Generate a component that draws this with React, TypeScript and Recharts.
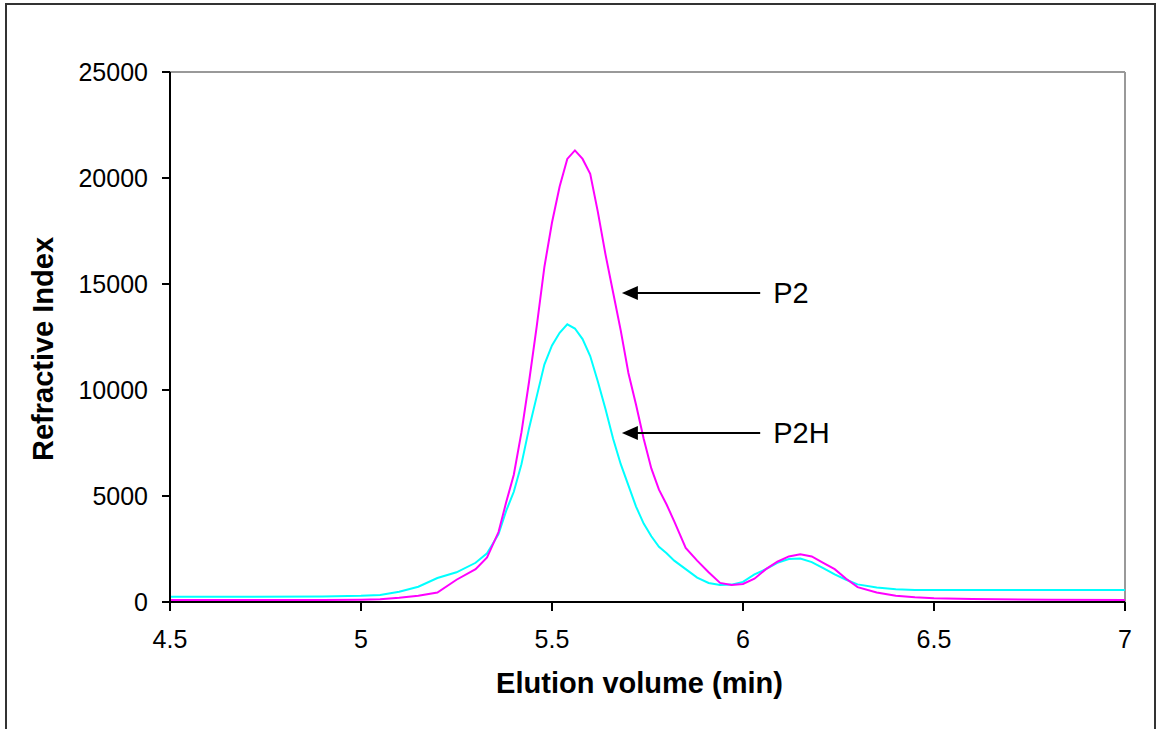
import {
  Label,
  Line,
  LineChart,
  ReferenceDot,
  ReferenceLine,
  XAxis,
  YAxis,
} from 'recharts'

// elution volume (min)
const volumes = [
  4.5, 4.7, 4.9, 5.0, 5.05, 5.1, 5.15, 5.2, 5.25, 5.3, 5.33, 5.36, 5.38, 5.4,
  5.42, 5.44, 5.46, 5.48, 5.5, 5.52, 5.54, 5.56, 5.58, 5.6, 5.62, 5.64, 5.66,
  5.68, 5.7, 5.72, 5.74, 5.76, 5.78, 5.8, 5.82, 5.85, 5.88, 5.91, 5.94, 5.97,
  6.0, 6.03, 6.06, 6.09, 6.12, 6.15, 6.18, 6.21, 6.24, 6.27, 6.3, 6.35, 6.4,
  6.45, 6.5, 6.6, 6.8, 7.0,
]

const p2 = [
  100, 100, 100, 110, 130, 200, 300, 450, 1050, 1550, 2100, 3300, 4700, 6000,
  8000, 10400, 13000, 15800, 17900, 19600, 20900, 21300, 20900, 20200, 18400,
  16400, 14600, 12800, 10800, 9300, 7700, 6300, 5300, 4600, 3800, 2550, 1950,
  1400, 900, 800, 850, 1100, 1550, 1900, 2150, 2250, 2150, 1850, 1550, 1100,
  700, 450, 300, 220, 180, 140, 110, 100,
]

const p2h = [
  250, 250, 260, 290, 330, 480, 720, 1130, 1400, 1850, 2300, 3200, 4300, 5200,
  6500, 8200, 9700, 11200, 12100, 12700, 13100, 12900, 12400, 11600, 10400,
  9100, 7700, 6500, 5500, 4500, 3700, 3100, 2600, 2300, 1950, 1550, 1150, 900,
  800, 820, 950, 1300, 1550, 1850, 2030, 2050, 1880, 1600, 1300, 1050, 830, 680,
  600, 570, 570, 570, 570, 570,
]

const xTicks = [4.5, 5, 5.5, 6, 6.5, 7]
const yTicks = [0, 5000, 10000, 15000, 20000, 25000]

// arrow annotations: label, arrow tip x, arrow tail x, level
const notes = [
  { name: 'P2', tip: 5.683, tail: 6.045, text: 6.079, y: 14575 },
  { name: 'P2H', tip: 5.683, tail: 6.045, text: 6.079, y: 7970 },
]

const data = volumes.map((v, i) => ({ v, p2: p2[i], p2h: p2h[i] }))

const font = '"Liberation Sans", Arial, sans-serif'

const ArrowHead = ({ cx, cy }: { cx?: number; cy?: number }) => {
  if (cx == null || cy == null) return null
  return (
    <polygon
      points={`${cx},${cy} ${cx + 16},${cy - 7} ${cx + 16},${cy + 7}`}
      fill="#000"
    />
  )
}

const noteText = (label: string) =>
  function NoteText({ cx, cy }: { cx?: number; cy?: number }) {
    if (cx == null || cy == null) return null
    return (
      <text
        x={cx}
        y={cy + 10}
        fontSize={29}
        fontFamily={font}
        fill="#000"
      >
        {label}
      </text>
    )
  }

export default function App() {
  return (
    <div
      style={{
        position: 'absolute',
        left: 0,
        top: 0,
        width: 1159,
        height: 729,
        background: '#fff',
        overflow: 'hidden',
        fontFamily: font,
      }}
    >
      <div
        style={{
          position: 'absolute',
          left: 5,
          top: 3,
          width: 1151,
          height: 760,
          border: '2px solid #333',
          boxSizing: 'border-box',
        }}
      />
      <div style={{ position: 'absolute', left: 0, top: 0 }}>
        <LineChart
          width={1159}
          height={729}
          data={data}
          margin={{ top: 72, right: 34, bottom: 27, left: 10 }}
        >
          <XAxis
            dataKey="v"
            type="number"
            domain={[4.5, 7]}
            ticks={xTicks}
            height={100}
            tickSize={9}
            tickMargin={19}
            stroke="#000"
            strokeWidth={2}
            tick={{ fill: '#000', fontSize: 25, fontFamily: font }}
          >
            <Label
              content={({ viewBox }: any) => (
                <text
                  x={viewBox.x + viewBox.width / 2 - 8}
                  y={viewBox.y + 91}
                  textAnchor="middle"
                  fontSize={29}
                  fontWeight="bold"
                  fontFamily={font}
                  fill="#000"
                >
                  Elution volume (min)
                </text>
              )}
            />
          </XAxis>
          <YAxis
            type="number"
            domain={[0, 25000]}
            ticks={yTicks}
            width={160}
            tickSize={8}
            tickMargin={14}
            stroke="#000"
            strokeWidth={2}
            tick={{ fill: '#000', fontSize: 25, fontFamily: font }}
          >
            <Label
              content={({ viewBox }: any) => {
                const x = viewBox.x + 43
                const y = viewBox.y + viewBox.height / 2 + 12
                return (
                  <text
                    x={x}
                    y={y}
                    transform={`rotate(-90, ${x}, ${y})`}
                    textAnchor="middle"
                    fontSize={29}
                    fontWeight="bold"
                    fontFamily={font}
                    fill="#000"
                  >
                    Refractive Index
                  </text>
                )
              }}
            />
          </YAxis>
          <ReferenceLine y={25000} stroke="#999" strokeWidth={2} />
          <ReferenceLine x={7} stroke="#999" strokeWidth={2} />
          <Line
            type="linear"
            dataKey="p2h"
            stroke="#00FFFF"
            strokeWidth={2}
            dot={false}
            isAnimationActive={false}
          />
          <Line
            type="linear"
            dataKey="p2"
            stroke="#FF00FF"
            strokeWidth={2}
            dot={false}
            isAnimationActive={false}
          />
          {notes.map((n) => (
            <ReferenceLine
              key={`l-${n.name}`}
              segment={[
                { x: n.tail, y: n.y },
                { x: n.tip + 0.03, y: n.y },
              ]}
              stroke="#000"
              strokeWidth={2}
            />
          ))}
          {notes.map((n) => (
            <ReferenceDot
              key={`h-${n.name}`}
              x={n.tip}
              y={n.y}
              r={0}
              shape={ArrowHead}
            />
          ))}
          {notes.map((n) => (
            <ReferenceDot
              key={`t-${n.name}`}
              x={n.text}
              y={n.y}
              r={0}
              shape={noteText(n.name)}
            />
          ))}
        </LineChart>
      </div>
    </div>
  )
}
